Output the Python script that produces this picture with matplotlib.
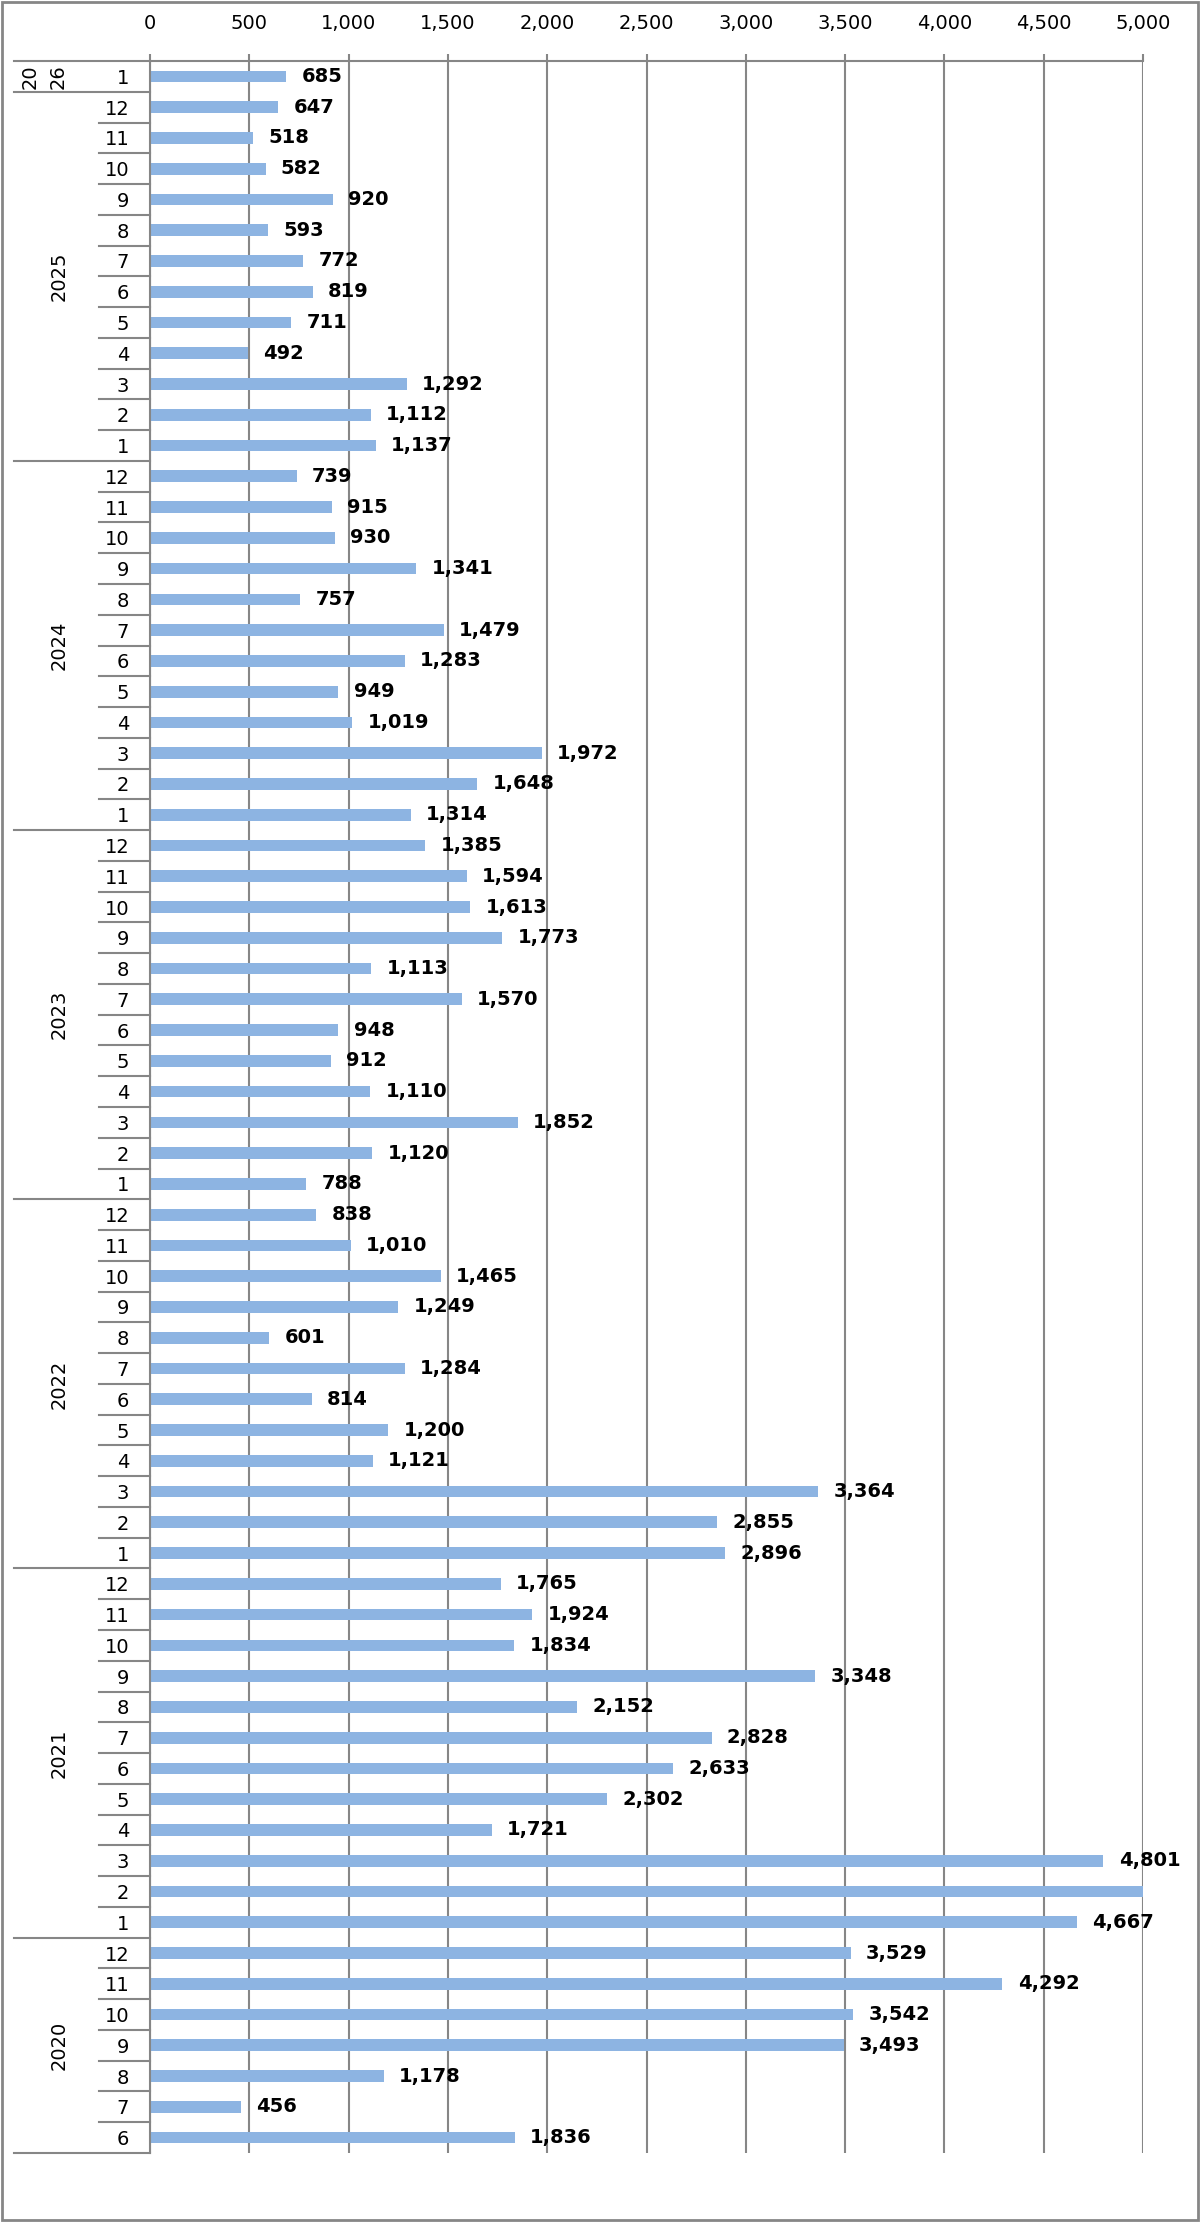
import matplotlib
matplotlib.use("Agg")
import matplotlib.pyplot as plt
from matplotlib.transforms import blended_transform_factory
from matplotlib.patches import Rectangle
from matplotlib.ticker import FuncFormatter

# monthly values, newest month first (as shown top to bottom)
y2026 = [685]
y2025 = [647, 518, 582, 920, 593, 772, 819, 711, 492, 1292, 1112, 1137]
y2024 = [739, 915, 930, 1341, 757, 1479, 1283, 949, 1019, 1972, 1648, 1314]
y2023 = [1385, 1594, 1613, 1773, 1113, 1570, 948, 912, 1110, 1852, 1120, 788]
y2022 = [838, 1010, 1465, 1249, 601, 1284, 814, 1200, 1121, 3364, 2855, 2896]
y2021 = [1765, 1924, 1834, 3348, 2152, 2828, 2633, 2302, 1721, 4801, 5200, 4667]  # Feb is cut off past 5,000
y2020 = [3529, 4292, 3542, 3493, 1178, 456, 1836]

years = ["20\n26", "2025", "2024", "2023", "2022", "2021", "2020"]
year_vals = [y2026, y2025, y2024, y2023, y2022, y2021, y2020]
month_2026 = [1]
month_full = list(range(12, 0, -1))
month_2020 = [12, 11, 10, 9, 8, 7, 6]
year_months = [month_2026] + [month_full] * 5 + [month_2020]

values = []
months = []
for v, m in zip(year_vals, year_months):
    values += v
    months += m

xmax = 5000
grey = "#868686"
bar_color = "#8db4e2"

fig = plt.figure(figsize=(12, 22.22), dpi=100)
ax = fig.add_axes([150 / 1200, 1 - 2153 / 2222, 993 / 1200, (2153 - 61) / 2222])

pos = list(range(len(values)))
ax.barh(pos, values, height=0.38, color=bar_color, zorder=2)
ax.set_xlim(0, xmax)
ax.set_ylim(len(values) - 0.5, -0.5)

for p, v in zip(pos, values):
    if v <= xmax:
        ax.annotate(f"{v:,}", (v, p), xytext=(11, 0), textcoords="offset points",
                    va="center", ha="left", fontsize=14, fontweight="bold")

# x axis on top
ax.xaxis.tick_top()
ax.set_xticks(range(0, xmax + 1, 500))
ax.xaxis.set_major_formatter(FuncFormatter(lambda x, _: f"{int(x):,}"))
ax.tick_params(axis="x", length=5, width=1.5, color=grey, pad=15, labelsize=14)
ax.grid(axis="x", color=grey, linewidth=1.5, zorder=0)

# month labels as y ticks
ax.set_yticks(pos)
ax.set_yticklabels(months)
ax.tick_params(axis="y", length=0, pad=15, labelsize=14)

for s in ["right", "bottom"]:
    ax.spines[s].set_visible(False)
for s in ["left", "top"]:
    ax.spines[s].set_color(grey)
    ax.spines[s].set_linewidth(1.5)

# category separators and year labels
tr = blended_transform_factory(ax.transAxes, ax.transData)
short_x = (99 - 150) / 993
long_x = (14 - 150) / 993
start = 0
for i, (yr, v) in enumerate(zip(years, year_vals)):
    n = len(v)
    ax.plot([long_x, 0], [start - 0.5, start - 0.5], transform=tr, color=grey,
            lw=1.5, clip_on=False)
    for k in range(1, n):
        ax.plot([short_x, 0], [start + k - 0.5, start + k - 0.5], transform=tr,
                color=grey, lw=1.5, clip_on=False)
    mid = start + (n - 1) / 2
    if "\n" in yr:
        ax.text((44 - 150) / 993, mid, yr, transform=tr, rotation=90, ha="center",
                va="center", fontsize=14, linespacing=1.6, multialignment="center")
    else:
        ax.text((59 - 150) / 993, mid, yr, transform=tr, rotation=90, ha="center",
                va="center", fontsize=14)
    start += n
ax.plot([long_x, 0], [start - 0.5, start - 0.5], transform=tr, color=grey,
        lw=1.5, clip_on=False)

# outer frame
fig.patches.append(Rectangle((0.002, 0.001), 0.996, 0.998, transform=fig.transFigure,
                             fill=False, edgecolor=grey, linewidth=2))

fig.savefig("out.png", dpi=100)
